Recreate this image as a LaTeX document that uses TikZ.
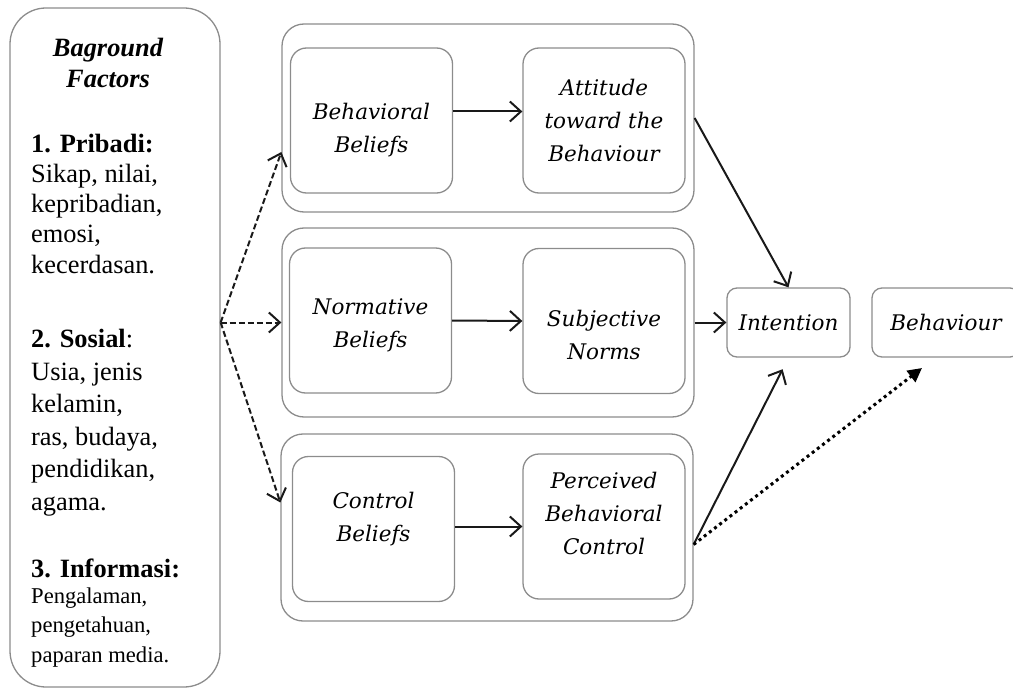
\documentclass[tikz,border=0pt]{standalone}
\usepackage{fontspec}
\setmainfont{Liberation Serif}
\newfontfamily\slabfont{DejaVu Serif}
\usetikzlibrary{arrows.meta}
\tikzset{frame/.style={draw=black!45, line width=1.3pt}}
\tikzset{bgbox/.style={frame, rounded corners=36pt, minimum width=210pt, minimum height=679pt}}
\tikzset{groupbox/.style={frame, rounded corners=22pt, minimum width=412pt, minimum height=188pt}}
\tikzset{beliefbox/.style={frame, rounded corners=16pt, minimum width=162pt, minimum height=145pt}}
\tikzset{endbox/.style={beliefbox, rounded corners=10pt, minimum width=123pt, minimum height=69pt}}
\tikzset{belieftext/.style={align=center, inner sep=0pt, font=\slabfont\itshape\fontsize{21.5}{33}\selectfont}}
\tikzset{bgtext/.style={anchor=base west, align=left, inner sep=0pt, font=\fontsize{26.4}{30.2}\selectfont}}
\tikzset{flow/.style={draw=black!90, line width=2pt, -{Straight Barb[length=11pt, width=20pt]}}}
\tikzset{factor/.style={flow, dash pattern=on 6pt off 3pt}}
\tikzset{dotflow/.style={draw=black, line width=3pt, dash pattern=on 3pt off 3.5pt, -{Triangle[length=14pt, width=14pt]}}}

\begin{document}
\begin{tikzpicture}[x=1pt, y=-1pt]
    \useasboundingbox (0,0) rectangle (1013,690);
    \clip (0,0) rectangle (1013,690);
    \node[bgbox] (bg) at (115,347.5) {};
    \node[bgtext, anchor=base, align=center, font=\bfseries\itshape\fontsize{26.4}{31}\selectfont] (title) at (108,88) {Baground\\Factors};
    \node[bgtext] (pribadi) at (31,273) {\textbf{1. Pribadi:}\\Sikap, nilai,\\kepribadian,\\emosi,\\kecerdasan.};
    \node[bgtext, font=\fontsize{26.4}{32.5}\selectfont] (sosial) at (31,510) {\textbf{2. Sosial}:\\Usia, jenis\\kelamin,\\ras, budaya,\\pendidikan,\\agama.};
    \node[bgtext] (infohead) at (31,577) {\textbf{3. Informasi:}};
    \node[bgtext, font=\fontsize{22.6}{29.5}\selectfont] (info) at (31,662) {Pengalaman,\\pengetahuan,\\paparan media.};

    \node[groupbox] (g1) at (488,118) {};
    \node[groupbox, minimum height=189pt] (g2) at (488,322.5) {};
    \node[groupbox, minimum height=187pt] (g3) at (487,527.5) {};

    \node[beliefbox] (bb) at (371.5,120.5) {};
    \node[beliefbox] (att) at (604,120.5) {};
    \node[beliefbox] (nb) at (370.5,320.5) {};
    \node[beliefbox] (sn) at (604,321) {};
    \node[beliefbox] (cb) at (373.5,529) {};
    \node[beliefbox] (pbc) at (604,526.5) {};
    \node[endbox] (int) at (788.5,322.5) {};
    \node[endbox, minimum width=148pt] (beh) at (946,322.5) {};

    \node[belieftext] (bbtext) at ([yshift=-10pt]bb) {Behavioral\\Beliefs};
    \node[belieftext] (atttext) at (att) {Attitude\\toward the\\Behaviour};
    \node[belieftext] (nbtext) at ([yshift=-5pt]nb) {Normative\\Beliefs};
    \node[belieftext] (sntext) at ([yshift=-14pt]sn) {Subjective\\Norms};
    \node[belieftext] (cbtext) at ([yshift=10pt]cb) {Control\\Beliefs};
    \node[belieftext] (pbctext) at ([yshift=13pt]pbc) {Perceived\\Behavioral\\Control};
    \node[belieftext] (inttext) at (int) {Intention};
    \node[belieftext] (behtext) at (beh) {Behaviour};

    \coordinate (src) at (bg.east |- g2.west);
    \draw[factor] (src) -- ([yshift=-34pt]g1.west);
    \draw[factor] (src) -- (g2.west);
    \draw[factor] (src) -- ([yshift=25pt]g3.west);

    \draw[flow] ([yshift=9pt]bb.east) -- ([yshift=9pt]att.west);
    \draw[flow] (nb.east) -- (sn.west);
    \draw[flow] (pbc.west -| cb.east) -- (pbc.west);

    \draw[flow] (g1.east) -- (int.north);
    \draw[flow] (g2.east) -- (int.west);
    \coordinate (pbcout) at ([yshift=-17pt]g3.east);
    \coordinate (behtip) at (922,368);
    \draw[flow, shorten >=13pt] (pbcout) -- (int.south);
    \draw[dotflow] (pbcout) -- (behtip);
\end{tikzpicture}
\end{document}
